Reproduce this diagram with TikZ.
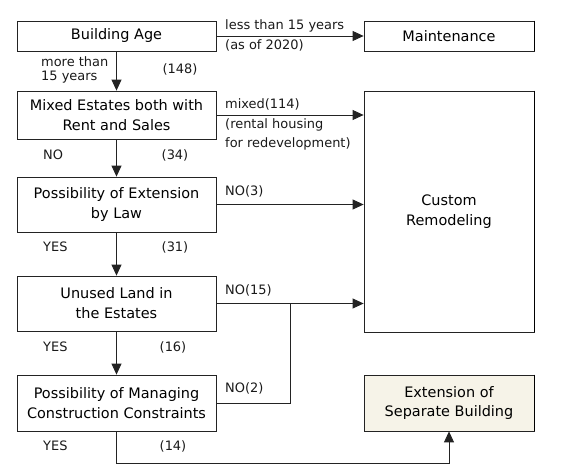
\documentclass[tikz,border=0pt]{standalone}
\usepackage{fontspec}
\setmainfont{DejaVu Sans}
\usepackage{tikz}
\usetikzlibrary{arrows.meta, positioning, calc}
\definecolor{LineCol}{RGB}{35,35,35}
\definecolor{SepFill}{RGB}{246,243,232}

\begin{document}
\begin{tikzpicture}[x=1bp, y=-1bp,
  box/.style={rectangle, draw=LineCol, line width=0.8pt, minimum width=199bp,
              align=center, inner sep=0pt, font=\fontsize{14.5}{20}\selectfont},
  outbox/.style={box, minimum width=170bp},
  arr/.style={-{Triangle[length=11pt, width=10pt]}, line width=0.8pt, LineCol},
  link/.style={line width=0.8pt, LineCol},
  edge/.style={line width=1.8pt, black},
  lbl/.style={inner sep=0pt, align=left, font=\fontsize{13}{20}\selectfont, text=black!90},
]
\useasboundingbox (0,0) rectangle (563,476);
\node[box, minimum height=30bp] (age) at (116.5,36) {Building Age};
\node[outbox, minimum height=30bp] (maint) at (449,36) {Maintenance};
\node[box, minimum height=48bp] (mixed) at (116.5,115)
  {Mixed Estates both with\\Rent and Sales};
\node[outbox, minimum height=241bp] (custom) at (449,211.5) {Custom\\Remodeling};
\node[box, minimum height=55bp] (ext) at (116.5,204.5)
  {Possibility of Extension\\by Law};
\node[box, minimum height=55bp] (unused) at (116.5,303.5)
  {Unused Land in\\the Estates};
\node[box, minimum height=56bp] (manage) at (116.5,403)
  {Possibility of Managing\\Construction Constraints};
\node[outbox, minimum height=56bp, fill=SepFill] (sep) at (449,403)
  {Extension of\\Separate Building};
\draw[edge] (maint.north east) -- (maint.south east);
\draw[edge] (custom.north east) -- (custom.south east);
\draw[edge] (sep.north east) -- (sep.south east);
\coordinate (join) at ($(unused.east)!0.5!(unused.east -| custom.west)$);
\coordinate (low) at (0,463);
\draw[arr] (age) -- (maint);
\draw[arr] (age) -- (mixed);
\draw[arr] (mixed.east) -- (mixed.east -| custom.west);
\draw[arr] (mixed) -- (ext);
\draw[arr] (ext.east) -- (ext.east -| custom.west);
\draw[arr] (ext) -- (unused);
\draw[arr] (unused.east) -- (unused.east -| custom.west);
\draw[arr] (unused) -- (manage);
\draw[link] (manage.east) -| (join);
\draw[arr] (manage.south) -- (manage.south |- low) -| (sep.south);
\node[lbl, anchor=west] (lessyrs) at (225,35) {less than 15 years\\(as of 2020)};
\node[lbl, anchor=west, font=\fontsize{13}{14}\selectfont] (moreyrs) at (41,70)
  {more than\\15 years};
\node[lbl] (n148) at (180,69) {(148)};
\node[lbl, anchor=west] (mixlbl) at (225,124.5)
  {mixed(114)\\(rental housing\\for redevelopment)};
\node[lbl, anchor=west] (no1) at (43,155) {NO};
\node[lbl] (n34) at (175,155) {(34)};
\node[lbl, anchor=west] (no3) at (225,191) {NO(3)};
\node[lbl, anchor=west] (yes1) at (43,247) {YES};
\node[lbl] (n31) at (175,247) {(31)};
\node[lbl, anchor=west] (no15) at (225,290) {NO(15)};
\node[lbl, anchor=west] (yes2) at (43,347) {YES};
\node[lbl] (n16) at (173,347) {(16)};
\node[lbl, anchor=west] (no2) at (225,388) {NO(2)};
\node[lbl, anchor=west] (yes3) at (43,446) {YES};
\node[lbl] (n14) at (173,446) {(14)};
\end{tikzpicture}
\end{document}
